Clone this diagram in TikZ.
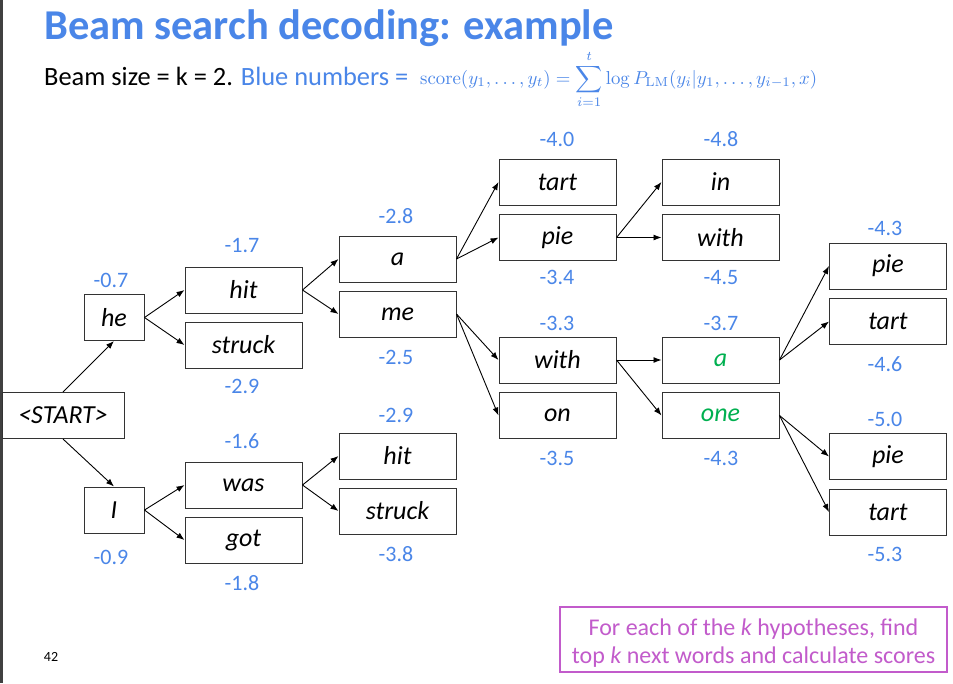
\documentclass[tikz,border=0pt]{standalone}
\usepackage{amsmath}
\usepackage[no-math]{fontspec}
\setmainfont{Carlito}
\usepackage{graphicx}
\usetikzlibrary{arrows.meta}
\definecolor{titleblue}{HTML}{4A86E8}
\definecolor{numblue}{HTML}{4A86E8}
\definecolor{wordgreen}{HTML}{00B050}
\definecolor{notepurple}{HTML}{C25BCB}
\definecolor{sidebar}{HTML}{404040}
\begin{document}
\begin{tikzpicture}[x=1pt,y=-1pt,
  word/.style={draw=black!80, line width=1pt, minimum width=117pt, minimum height=46pt,
    inner sep=0pt, font=\fontsize{26}{28}\selectfont\itshape},
  shortword/.style={word, minimum width=60pt},
  score/.style={text=numblue, inner sep=0pt, font=\fontsize{22}{24}\selectfont},
  link/.style={black, line width=0.9pt, -{Latex[length=8pt,width=6pt]}}]
\useasboundingbox (0,0) rectangle (953,683);
\fill[white] (0,0) rectangle (953,683);
\fill[sidebar] (0,0) rectangle (3,683);

% heading
\node[anchor=base west, inner sep=0pt, text=titleblue, font=\fontsize{42.5}{46}\selectfont\bfseries] (title) at (44,39) {Beam search decoding: example};
\node[anchor=base west, inner sep=0pt, font=\fontsize{26.4}{30}\selectfont] (sub) at (44,85) {Beam size = k = 2. \textcolor{numblue}{Blue numbers =}};
\node[anchor=base west, inner sep=0pt, text=numblue] (formula) at (420,84)
  {\resizebox{397pt}{!}{$\displaystyle \operatorname{score}(y_1,\ldots,y_t)=\sum_{i=1}^{t}\log P_{\mathrm{LM}}(y_i|y_1,\ldots,y_{i-1},x)$}};

% tree nodes
\node[word, minimum width=122pt] (start) at (63,415.5) {<START>};
\node[shortword] (he) at (114,317.5) {he};
\node[shortword] (i1) at (114,510) {I};

\node[word] (hitA) at (243.5,290) {hit};
\node[word] (struckA) at (243.5,345) {struck};
\node[word] (was) at (243.5,485) {was};
\node[word] (got) at (243.5,540) {got};

\node[word] (aB) at (397.5,259) {a};
\node[word] (meB) at (397.5,314) {me};
\node[word] (hitB) at (397.5,456) {hit};
\node[word] (struckB) at (397.5,511) {struck};

\node[word] (tartC) at (557.5,182) {tart};
\node[word] (pieC) at (557.5,237.5) {pie};
\node[word] (withC) at (557.5,360) {with};
\node[word] (onC) at (557.5,415.5) {on};

\node[word] (inD) at (720.5,182) {in};
\node[word] (withD) at (720.5,237.5) {with};
\node[word, text=wordgreen] (aD) at (720.5,360) {a};
\node[word, text=wordgreen] (oneD) at (720.5,415.5) {one};

\node[word] (pieE) at (888,266) {pie};
\node[word] (tartE) at (888,321.5) {tart};
\node[word] (pieF) at (888,456.5) {pie};
\node[word] (tartF) at (888,512) {tart};

% scores
\node[score] (s1) at (111,280) {-0.7};
\node[score] (s2) at (111,557) {-0.9};
\node[score] (s3) at (242,246) {-1.7};
\node[score] (s4) at (242,386) {-2.9};
\node[score] (s5) at (242,441) {-1.6};
\node[score] (s6) at (242,583) {-1.8};
\node[score] (s7) at (396,216) {-2.8};
\node[score] (s8) at (396,357) {-2.5};
\node[score] (s9) at (396,415) {-2.9};
\node[score] (s10) at (396,554) {-3.8};
\node[score] (s11) at (557,139) {-4.0};
\node[score] (s12) at (557,277) {-3.4};
\node[score] (s13) at (557,323) {-3.3};
\node[score] (s14) at (557,458) {-3.5};
\node[score] (s15) at (721,139) {-4.8};
\node[score] (s16) at (721,278) {-4.5};
\node[score] (s17) at (721,323) {-3.7};
\node[score] (s18) at (721,458) {-4.3};
\node[score] (s19) at (885,228) {-4.3};
\node[score] (s20) at (885,364) {-4.6};
\node[score] (s21) at (885,419) {-5.0};
\node[score] (s22) at (885,554) {-5.3};

% connectors
\draw[link] (start.north) -- (he.south);
\draw[link] (start.south) -- (i1.north);
\draw[link] (he.east) -- (hitA.west);
\draw[link] (he.east) -- (struckA.west);
\draw[link] (i1.east) -- (was.west);
\draw[link] (i1.east) -- (got.west);
\draw[link] (hitA.east) -- (aB.west);
\draw[link] (hitA.east) -- (meB.west);
\draw[link] (was.east) -- (hitB.west);
\draw[link] (was.east) -- (struckB.west);
\draw[link] (aB.east) -- (tartC.west);
\draw[link] (aB.east) -- (pieC.west);
\draw[link] (meB.east) -- (withC.west);
\draw[link] (meB.east) -- (onC.west);
\draw[link] (pieC.east) -- (inD.west);
\draw[link] (pieC.east) -- (withD.west);
\draw[link] (withC.east) -- (aD.west);
\draw[link] (withC.east) -- (oneD.west);
\draw[link] (aD.east) -- (pieE.west);
\draw[link] (aD.east) -- (tartE.west);
\draw[link] (oneD.east) -- (pieF.west);
\draw[link] (oneD.east) -- (tartF.west);

% explanatory note: frame and its two lines
\node[draw=notepurple, line width=1.3pt, minimum width=387pt, minimum height=65pt, inner sep=0pt] (note) at (753.5,639.5) {};
\node[text=notepurple, align=center, inner sep=0pt, font=\fontsize{24}{28}\selectfont] (notetext) at (753.5,643)
  {For each of the \textit{k} hypotheses, find\\top \textit{k} next words and calculate scores};

% slide number
\node[font=\fontsize{14}{16}\selectfont, inner sep=0pt] (pg) at (51,657) {42};
\end{tikzpicture}
\end{document}
